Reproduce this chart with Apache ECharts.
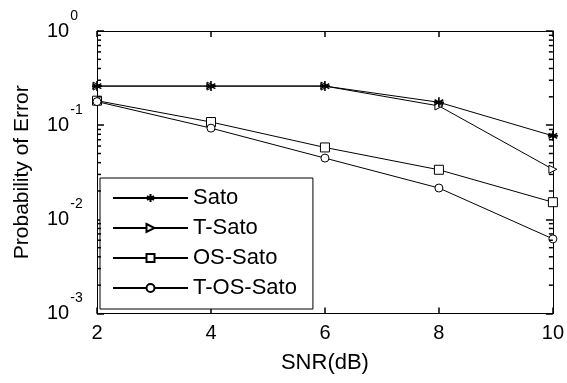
<!DOCTYPE html>
<html>
<head>
<meta charset="utf-8">
<script src="https://cdn.jsdelivr.net/npm/echarts@6/dist/echarts.min.js"></script>
<style>
  html, body { margin: 0; padding: 0; background: #fff; }
  #chart { width: 567px; height: 383px; }
</style>
</head>
<body>
<div id="chart"></div>
<script>
const snr = [2, 4, 6, 8, 10]
const sato = [0.26, 0.26, 0.26, 0.175, 0.077]
const tSato = [0.26, 0.26, 0.26, 0.16, 0.034]
const osSato = [0.182, 0.108, 0.058, 0.0336, 0.0152]
const tosSato = [0.178, 0.093, 0.0447, 0.0215, 0.0062]
const names = ['Sato', 'T-Sato', 'OS-Sato', 'T-OS-Sato']

// log minor ticks, drawn on the left and right edges
const minorTickVals = [
  0.002, 0.003, 0.004, 0.005, 0.006, 0.007, 0.008, 0.009,
  0.02, 0.03, 0.04, 0.05, 0.06, 0.07, 0.08, 0.09,
  0.2, 0.3, 0.4, 0.5, 0.6, 0.7, 0.8, 0.9
]

const FONT = 'Liberation Sans, Arial, sans-serif'
const TICK = '#000'
const star = 'path://M0,-5L0,5M-4.33,-2.5L4.33,2.5M-4.33,2.5L4.33,-2.5M-5,0L5,0'
const tri = 'path://M0,0L10,5L0,10Z'

const chart = echarts.init(document.getElementById('chart'))

const pair = function(ys) {
  return snr.map((x, i) => [x, ys[i]])
}

const lineSeries = function(name, ys, symbol, size, bw) {
  return {
    name: name,
    type: 'line',
    data: pair(ys),
    symbol: symbol,
    symbolSize: size,
    showAllSymbol: true,
    lineStyle: { color: '#000', width: 1 },
    itemStyle: { color: '#fff', borderColor: '#000', borderWidth: bw || 1 },
    emphasis: { disabled: true },
    animation: false
  }
}

const expLabel = function(v) {
  const e = Math.round(Math.log10(v))
  return '{b|10}{s|' + e + '}'
}

const option = {
  backgroundColor: '#fff',
  animation: false,
  grid: { left: 97, right: 14, top: 31, bottom: 69.5 },
  legend: {
    data: names,
    orient: 'vertical',
    left: 100,
    top: 178,
    itemWidth: 75,
    itemHeight: 10,
    itemGap: 8,
    padding: [9, 16, 10, 12],
    borderColor: '#000',
    borderWidth: 1,
    backgroundColor: '#fff',
    textStyle: { fontFamily: FONT, fontSize: 22, color: '#000' },
    selectedMode: false
  },
  xAxis: [{
    type: 'value',
    min: 2, max: 10, interval: 2,
    position: 'bottom',
    name: 'SNR(dB)',
    nameLocation: 'middle',
    nameGap: 38,
    nameTextStyle: { fontFamily: FONT, fontSize: 22, color: '#000' },
    axisLine: { lineStyle: { color: '#000', width: 1 } },
    axisTick: { show: true, inside: true, length: 6, lineStyle: { color: TICK, width: 1.5 } },
    axisLabel: { fontFamily: FONT, fontSize: 20, color: '#000', margin: 10 },
    splitLine: { show: false }
  }, {
    type: 'value',
    min: 2, max: 10, interval: 2,
    position: 'top',
    axisLine: { lineStyle: { color: '#000', width: 1 } },
    axisTick: { show: true, inside: true, length: 6, lineStyle: { color: TICK, width: 1.5 } },
    axisLabel: { show: false },
    splitLine: { show: false }
  }],
  yAxis: [{
    type: 'log',
    logBase: 10,
    min: 0.001, max: 1,
    position: 'left',
    name: 'Probability of Error',
    nameLocation: 'middle',
    nameGap: 64,
    nameTextStyle: { fontFamily: FONT, fontSize: 21, color: '#000' },
    axisLine: { show: true, lineStyle: { color: '#000', width: 1 } },
    axisTick: { show: true, inside: true, length: 7, lineStyle: { color: TICK, width: 1.5 } },
    axisLabel: {
      align: 'left',
      margin: 50,
      formatter: expLabel,
      rich: {
        b: { fontFamily: FONT, fontSize: 20, color: '#000', padding: [5, 0, 5, 0] },
        s: { fontFamily: FONT, fontSize: 14, color: '#000', padding: [0, 0, 30, 1] }
      }
    },
    splitLine: { show: false }
  }, {
    type: 'log',
    logBase: 10,
    min: 0.001, max: 1,
    position: 'right',
    axisLine: { show: true, lineStyle: { color: '#000', width: 1 } },
    axisTick: { show: true, inside: true, length: 7, lineStyle: { color: TICK, width: 1.5 } },
    axisLabel: { show: false },
    splitLine: { show: false }
  }],
  series: [
    {
      type: 'custom',
      silent: true,
      animation: false,
      z: 10,
      data: minorTickVals.map(v => [2, v]),
      renderItem: function(params, api) {
        const v = api.value(1)
        const pL = api.coord([2, v])
        const pR = api.coord([10, v])
        return {
          type: 'group',
          children: [
            { type: 'line', shape: { x1: pL[0], y1: pL[1], x2: pL[0] + 4, y2: pL[1] }, style: { stroke: TICK, lineWidth: 1.5 } },
            { type: 'line', shape: { x1: pR[0], y1: pR[1], x2: pR[0] - 4, y2: pR[1] }, style: { stroke: TICK, lineWidth: 1.5 } }
          ]
        }
      }
    },
    lineSeries('OS-Sato', osSato, 'rect', 9),
    lineSeries('T-OS-Sato', tosSato, 'circle', 8),
    lineSeries('T-Sato', tSato, tri, 8),
    lineSeries('Sato', sato, star, 10, 1.6)
  ]
}

chart.setOption(option)
</script>
</body>
</html>
